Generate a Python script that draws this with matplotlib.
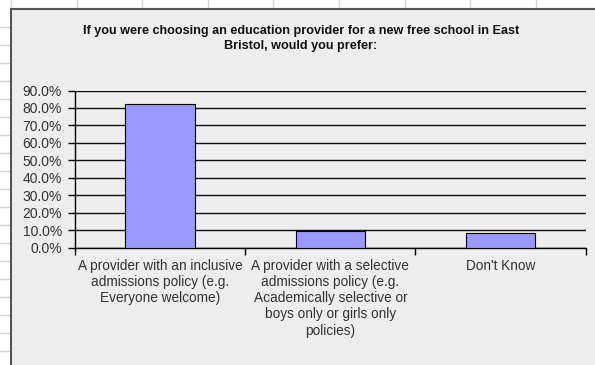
import numpy as np
import matplotlib
matplotlib.use("Agg")
import matplotlib.pyplot as plt
from matplotlib.lines import Line2D
from matplotlib.patches import Rectangle
from matplotlib.ticker import PercentFormatter, FixedLocator

# data
categories = [
    "A provider with an inclusive\nadmissions policy (e.g.\nEveryone welcome)",
    "A provider with a selective\nadmissions policy (e.g.\nAcademically selective or\nboys only or girls only\npolicies)",
    "Don't Know",
]
values = [82.0, 9.6, 8.3]
y_ticks = [0, 10, 20, 30, 40, 50, 60, 70, 80, 90]
title = ("If you were choosing an education provider for a new free school in East\n"
         "Bristol, would you prefer:")

W, H = 595, 365
fig = plt.figure(figsize=(W / 100, H / 100), dpi=100)
fig.patch.set_facecolor("white")


def fx(px):
    return px / W


def fy(py):
    return 1 - py / H


# spreadsheet grid behind the chart object
grid_col = "#d4d4d4"
for k in range(0, 10):
    x = 11 + 65.6 * k
    fig.add_artist(Line2D([fx(x), fx(x)], [fy(0), fy(9)], transform=fig.transFigure,
                          color=grid_col, lw=1, zorder=-3))
for k in range(1, 21):
    y = 8.7 + 18 * k
    fig.add_artist(Line2D([fx(0), fx(11)], [fy(y), fy(y)], transform=fig.transFigure,
                          color=grid_col, lw=1, zorder=-3))

# chart object frame
fig.add_artist(Rectangle((fx(11), fy(380)), fx(600), fy(8.7) - fy(380),
                         transform=fig.transFigure, facecolor="#eeeeee",
                         edgecolor="#555555", lw=1.5, zorder=-2))

ax = fig.add_axes([fx(75), fy(247.7), fx(585.7) - fx(75), fy(90.5) - fy(247.7)])
ax.set_facecolor("none")

x_pos = np.arange(len(categories)) + 0.5
ax.bar(x_pos, values, width=0.407, color="#9999ff", edgecolor="black", lw=0.8, zorder=3)

ax.set_xlim(0, len(categories))
ax.set_ylim(0, 90)
ax.yaxis.set_major_locator(FixedLocator(y_ticks))
ax.yaxis.set_major_formatter(PercentFormatter(xmax=100, decimals=1))
ax.grid(axis="y", color="#111111", lw=1, zorder=1)

ax.set_xticks(x_pos)
ax.set_xticklabels(categories)
ax.set_xticks(np.arange(len(categories) + 1), minor=True)
ax.tick_params(axis="x", which="major", length=0, pad=8, labelsize=9.8,
               labelcolor="#333333")
ax.tick_params(axis="x", which="minor", length=5, width=1, color="black", direction="out")
ax.tick_params(axis="y", length=5, width=1, color="black", pad=4.5, labelsize=10,
               labelcolor="#333333")
for lab in ax.get_xticklabels() + ax.get_yticklabels():
    lab.set_family(["Liberation Sans", "DejaVu Sans"])
for lab in ax.get_xticklabels():
    lab.set_linespacing(1.2)

for side in ["top", "right"]:
    ax.spines[side].set_visible(False)
for side in ["left", "bottom"]:
    ax.spines[side].set_color("black")
    ax.spines[side].set_linewidth(1)

fig.text(fx(300.7), fy(25), title, ha="center", va="top", multialignment="center",
         fontsize=9.1, fontweight="bold", color="#111111", linespacing=1.3,
         family=["Liberation Sans", "DejaVu Sans"])

fig.savefig("out.png", dpi=100)
